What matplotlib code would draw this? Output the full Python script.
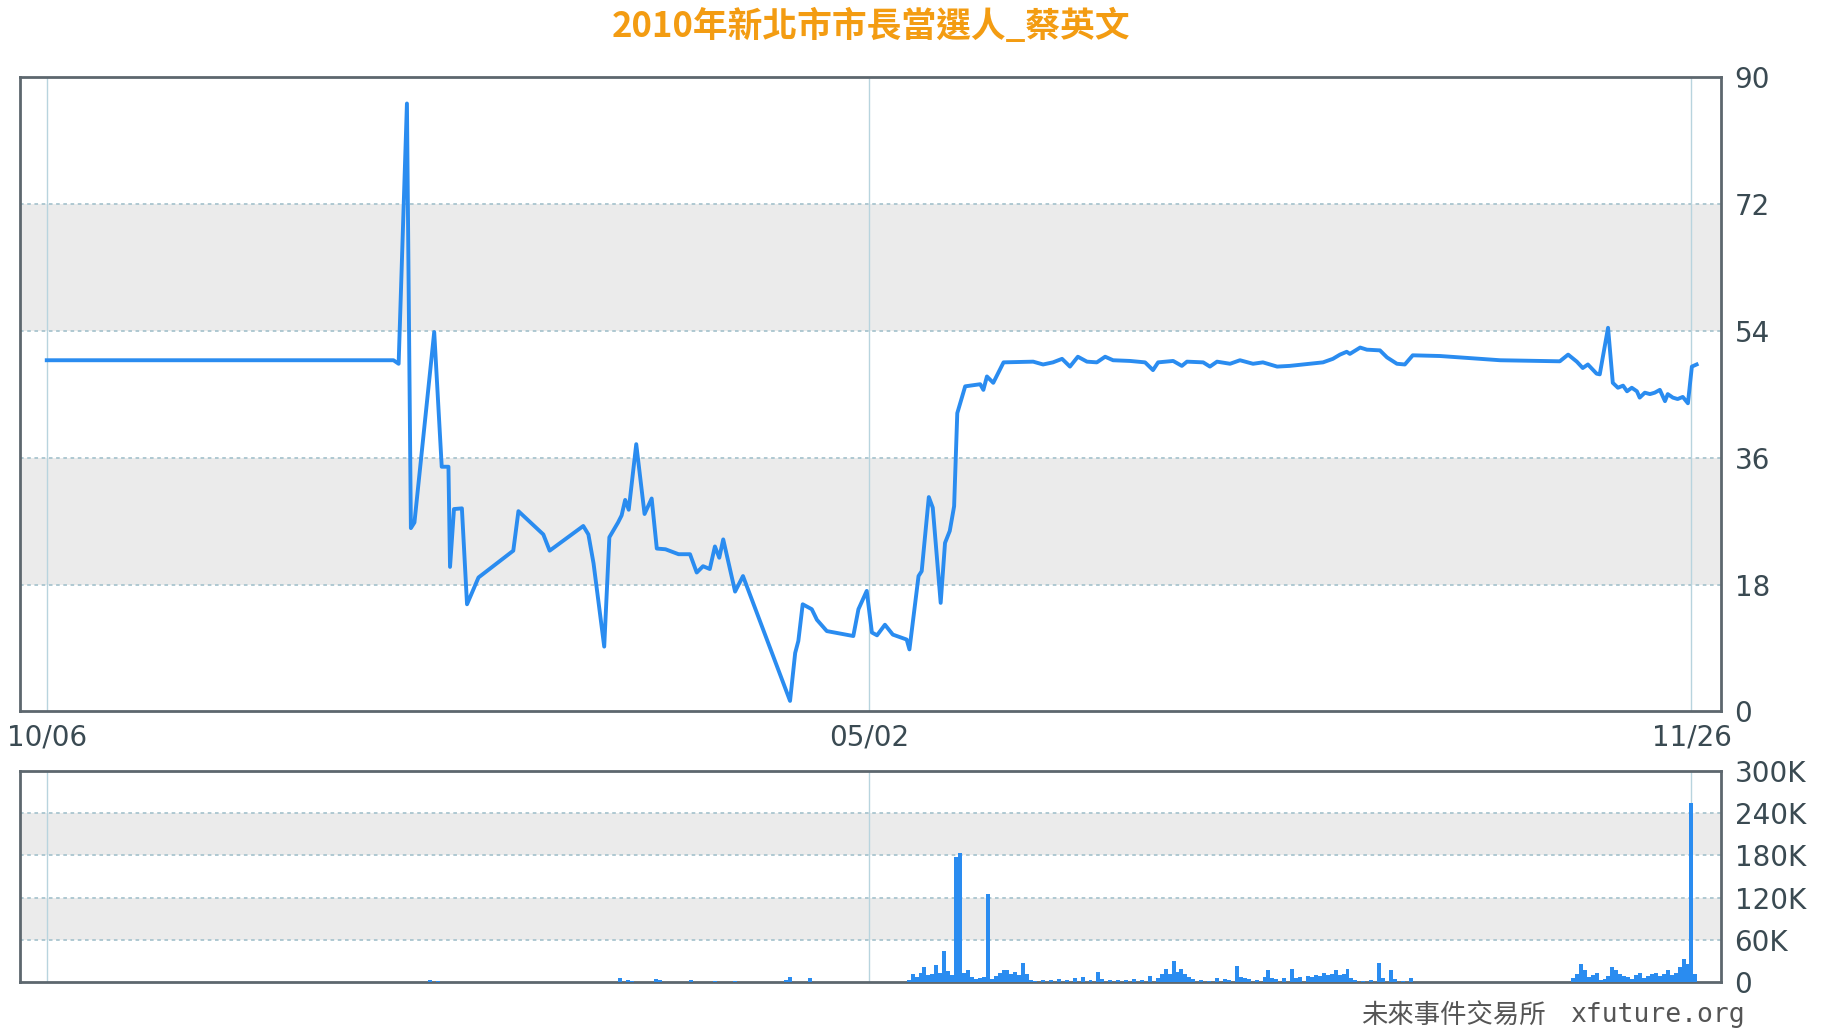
import matplotlib
matplotlib.use("Agg")
import matplotlib.pyplot as plt

# price line: days since 2009-10-06, price
price_days = [0, 87.7, 89, 91.1, 92.1, 93, 98, 99.9, 101.6, 102, 103, 105, 106.3, 109.2,
              118, 119.3, 125.6, 127.2, 135.7, 137, 138.3, 141, 142.3, 144.5, 145.4, 146.3,
              147.2, 149.1, 151.2, 153, 154.3, 156.5, 159.8, 162.7, 164.4, 166, 167.7, 169,
              170.1, 171.1, 174.1, 176.1, 188, 189.3, 190.1, 191.2, 193.5, 194.8, 197.3, 204,
              205.3, 207.4, 208.7, 210, 212, 214, 217.5, 218.2, 220.5, 221.3, 223.1, 224.1,
              226.1, 227.2, 228.4, 229.5, 230.3, 232.3, 236.1, 236.9, 237.8, 239.4, 242,
              249.5, 252, 254.5, 256.8, 258.8, 260.8, 263.1, 265.6, 267.7, 269.7, 274, 277.8,
              279.8, 281.1, 284.9, 287.1, 288.4, 292.5, 294.2, 296, 299.3, 301.8, 305.1, 307.6,
              311.2, 314.4, 319.5, 322.8, 325.3, 327.1, 328.8, 329.6, 332.2, 333.9, 337.2, 339,
              341.5, 343.5, 345.5, 352.4, 367.6, 382.7, 384.8, 387, 388.5, 389.8, 392, 392.8,
              394.9, 396.1, 397.4, 398.7, 399.7, 400.9, 402.2, 402.9, 404.2, 405.5, 406.7, 408,
              409.3, 410, 411.3, 412.5, 413.8, 415.1, 416.1, 417.3]
price_vals = [49.8, 49.8, 49.3, 86.2, 26.0, 26.8, 53.8, 34.7, 34.7, 20.5, 28.7, 28.8, 15.2, 19.0,
              22.8, 28.4, 25.1, 22.8, 26.3, 25.1, 21.0, 9.2, 24.7, 26.8, 27.8, 30.0,
              28.6, 37.9, 28.0, 30.2, 23.1, 23.0, 22.3, 22.3, 19.7, 20.6, 20.2, 23.4,
              21.8, 24.4, 17.0, 19.2, 1.5, 8.3, 10.0, 15.2, 14.5, 13.0, 11.4, 10.7,
              14.5, 17.1, 11.2, 10.8, 12.3, 10.9, 10.2, 8.8, 19.2, 19.9, 30.4, 28.9,
              15.4, 23.9, 25.6, 29.1, 42.3, 46.1, 46.4, 45.6, 47.5, 46.6, 49.5,
              49.6, 49.2, 49.5, 50.0, 48.9, 50.3, 49.6, 49.5, 50.3, 49.8, 49.7, 49.5,
              48.4, 49.5, 49.7, 49.0, 49.6, 49.5, 48.9, 49.6, 49.3, 49.8, 49.3, 49.5,
              48.9, 49.0, 49.3, 49.5, 50.0, 50.6, 51.0, 50.7, 51.6, 51.3, 51.2, 50.2,
              49.3, 49.2, 50.5, 50.4, 49.8, 49.65, 50.6, 49.6, 48.7, 49.2, 47.9, 47.8,
              54.4, 46.6, 45.9, 46.2, 45.4, 45.9, 45.4, 44.5, 45.2, 45.0, 45.2, 45.6,
              44.0, 45.0, 44.5, 44.3, 44.6, 43.7, 48.9, 49.2]

# daily volume (thousands)
vol_days = [97, 99, 145, 147, 148, 154, 155, 163, 169, 174, 187, 188, 193, 207, 216, 218, 219,
            220, 221, 222, 223, 224, 225, 226, 227, 228, 229, 230, 231, 232, 233, 234, 235,
            236, 237, 238, 239, 240, 241, 242, 243, 244, 245, 246, 247, 248, 249, 250, 252,
            254, 256, 258, 260, 262, 264, 266, 267, 269, 271, 273, 275, 277, 279, 281, 282,
            283, 284, 285, 286, 287, 288, 289, 290, 292, 294, 296, 298, 299, 301, 302, 303,
            304, 306, 308, 309, 310, 311, 313, 315, 316, 317, 319, 320, 321, 322, 323, 324,
            325, 326, 327, 328, 329, 330, 331, 333, 335, 337, 338, 340, 341, 343, 345, 386,
            387, 388, 389, 390, 391, 392, 393, 394, 395, 396, 397, 398, 399, 400, 401, 402,
            403, 404, 405, 406, 407, 408, 409, 410, 411, 412, 413, 414, 415, 416, 417]
vol_k = [3, 2, 7, 3, 2.5, 5, 3, 3, 1.5, 1.5, 4, 8, 7, 1, 1, 4, 12,
         8, 14, 22, 10, 12, 25, 14, 44, 16, 10, 178, 184, 14, 17, 8, 5,
         6, 8, 126, 5, 9, 13, 17, 17, 12, 15, 10, 28, 12, 4, 2, 3,
         3, 5, 4, 6, 8, 4, 15, 5, 3, 4, 3, 5, 4, 9.5, 7, 12,
         19, 12, 31, 15, 19, 12, 8, 5, 3, 2, 7, 5, 4, 24, 8, 6,
         5, 4, 8, 17.5, 6, 5, 6, 19, 7, 8, 9.5, 8, 10, 9, 14, 10,
         12, 17, 10, 12, 19, 7, 4, 2.5, 3, 28, 6, 17, 5, 2, 6, 7,
         12, 26, 17, 8, 10, 13, 3, 5, 9, 22, 17, 12, 9.5, 8, 5, 10,
         14, 7, 9, 12, 14, 9.5, 12, 17, 10, 14, 22, 33, 26, 255, 12]

date_ticks = [0, 208, 416]
date_labels = ["10/06", "05/02", "11/26"]
price_ticks = [0, 18, 36, 54, 72, 90]
vol_ticks = [0, 60, 120, 180, 240, 300]
vol_tick_labels = ["0", "60K", "120K", "180K", "240K", "300K"]

title = "2010年新北市市長當選人_蔡英文"
site_name = "未來事件交易所"
site_url = "xfuture.org"

blue = "#2a8cf0"
band = "#ebebeb"
gridc = "#a9c5cf"
vline = "#b8d4de"
frame = "#5d676e"
txt = "#3a4a52"
xlim = (-6.8, 423.4)

fig = plt.figure(figsize=(18.23, 10.31), dpi=100)
ax = fig.add_axes([0.0109, 0.3099, 0.933, 0.6157])
axv = fig.add_axes([0.0109, 0.0471, 0.933, 0.2053])

def style(a, ticks, labels, lo, hi):
    a.set_xlim(*xlim)
    a.set_ylim(lo, hi)
    for s in a.spines.values():
        s.set_color(frame)
        s.set_linewidth(2)
    a.yaxis.tick_right()
    a.set_yticks(ticks)
    a.set_yticklabels(labels)
    a.tick_params(axis="y", length=0, pad=10, labelsize=20, labelcolor=txt)
    # dashed grid lines (not at the ends)
    for t in ticks[1:-1]:
        a.axhline(t, color=gridc, lw=1.3, ls=(0, (2, 2)), zorder=1)
    for d in date_ticks:
        a.axvline(d, color=vline, lw=1, zorder=1)

# main price panel
ax.axhspan(18, 36, color=band, zorder=0, lw=0)
ax.axhspan(54, 72, color=band, zorder=0, lw=0)
style(ax, price_ticks, [str(t) for t in price_ticks], 0, 90)
ax.set_xticks(date_ticks)
ax.set_xticklabels(date_labels)
ax.tick_params(axis="x", length=0, pad=9, labelsize=20, labelcolor=txt)
ax.plot(price_days, price_vals, color=blue, lw=2.8, zorder=3, solid_joinstyle="round")

# volume panel
axv.axhspan(60, 120, color=band, zorder=0, lw=0)
axv.axhspan(180, 240, color=band, zorder=0, lw=0)
style(axv, vol_ticks, vol_tick_labels, 0, 300)
axv.set_xticks([])
axv.bar(vol_days, vol_k, width=1.0, color=blue, lw=0, zorder=3)

fig.text(0.478, 0.974, title, ha="center", va="center", fontsize=25, fontweight="bold",
         color="#f39c12", family=["Noto Sans CJK TC", "DejaVu Sans"])
fig.text(0.957, 0.0155, site_url, ha="right", va="center", fontsize=19,
         color="#555555", family="DejaVu Sans Mono")
fig.text(0.848, 0.0155, site_name, ha="right", va="center", fontsize=19,
         color="#555555", family=["Noto Sans CJK TC", "DejaVu Sans"])

fig.savefig("out.png", dpi=100, facecolor="white")
